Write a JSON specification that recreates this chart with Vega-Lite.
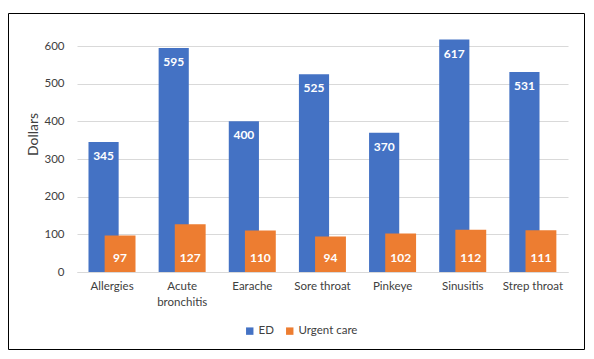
{
  "$schema": "https://vega.github.io/schema/vega-lite/v6.json",
  "width": 576,
  "height": 336,
  "autosize": {"type": "none"},
  "padding": {"left": 8, "top": 13, "right": 10, "bottom": 10},
  "background": "white",
  "config": {
    "view": {"stroke": "#000000", "strokeWidth": 1},
    "font": "Lato",
    "axis": {"labelFont": "Lato", "titleFont": "Lato"}
  },
  "data": {
    "values": [
      {"condition": "Allergies", "series": "ED", "value": 345},
      {"condition": "Acute bronchitis", "series": "ED", "value": 595},
      {"condition": "Earache", "series": "ED", "value": 400},
      {"condition": "Sore throat", "series": "ED", "value": 525},
      {"condition": "Pinkeye", "series": "ED", "value": 370},
      {"condition": "Sinusitis", "series": "ED", "value": 617},
      {"condition": "Strep throat", "series": "ED", "value": 531},
      {"condition": "Allergies", "series": "Urgent care", "value": 97},
      {"condition": "Acute bronchitis", "series": "Urgent care", "value": 127},
      {"condition": "Earache", "series": "Urgent care", "value": 110},
      {"condition": "Sore throat", "series": "Urgent care", "value": 94},
      {"condition": "Pinkeye", "series": "Urgent care", "value": 102},
      {"condition": "Sinusitis", "series": "Urgent care", "value": 112},
      {"condition": "Strep throat", "series": "Urgent care", "value": 111}
    ]
  },
  "encoding": {
    "x": {
      "field": "condition",
      "type": "nominal",
      "sort": null,
      "scale": {"range": [69, 560], "paddingInner": 0, "paddingOuter": 0},
      "axis": {
        "title": null,
        "labelAngle": 0,
        "offset": -77,
        "domain": true,
        "domainColor": "#D9D9D9",
        "ticks": false,
        "labelPadding": 8,
        "labelFontSize": 11.5,
        "labelColor": "#404040",
        "labelLineHeight": 16,
        "labelExpr": "datum.label == 'Acute bronchitis' ? ['Acute', 'bronchitis'] : datum.label"
      }
    },
    "y": {
      "field": "value",
      "type": "quantitative",
      "scale": {"domain": [0, 600], "range": [259, 33], "nice": false, "zero": true},
      "axis": {
        "title": "Dollars",
        "titleFontSize": 14,
        "titleFontWeight": "normal",
        "titleColor": "#404040",
        "titlePadding": 3,
        "titleY": 121,
        "values": [0, 100, 200, 300, 400, 500, 600],
        "offset": -60,
        "domain": false,
        "ticks": false,
        "labelPadding": 4,
        "labelFontSize": 11.5,
        "labelColor": "#404040",
        "gridColor": "#D9D9D9",
        "grid": true
      }
    },
    "color": {
      "field": "series",
      "type": "nominal",
      "scale": {"domain": ["ED", "Urgent care"], "range": ["#4472C4", "#ED7D31"]},
      "legend": {
        "title": null,
        "orient": "none",
        "direction": "horizontal",
        "legendX": 236,
        "legendY": 312,
        "symbolType": "square",
        "symbolSize": 55,
        "symbolStrokeWidth": 0,
        "labelFontSize": 11.5,
        "labelColor": "#404040",
        "columnPadding": 10,
        "labelOffset": 3
      }
    }
  },
  "layer": [
    {
      "transform": [{"filter": "datum.series == 'ED'"}],
      "mark": {"type": "bar", "width": {"band": 0.43}, "xOffset": -8.5},
      "encoding": {}
    },
    {
      "transform": [{"filter": "datum.series == 'ED'"}],
      "mark": {"type": "text", "xOffset": -8.5, "dy": 14, "color": "white", "fontWeight": "bold", "fontSize": 12, "baseline": "middle"},
      "encoding": {"text": {"field": "value", "type": "quantitative"}, "color": {"value": "white"}}
    },
    {
      "transform": [{"filter": "datum.series == 'Urgent care'"}],
      "mark": {"type": "bar", "width": {"band": 0.44}, "xOffset": 8},
      "encoding": {}
    },
    {
      "transform": [{"filter": "datum.series == 'Urgent care'"}],
      "mark": {"type": "text", "xOffset": 8, "dy": -14, "color": "white", "fontWeight": "bold", "fontSize": 12, "baseline": "middle"},
      "encoding": {"text": {"field": "value", "type": "quantitative"}, "y": {"datum": 0}, "color": {"value": "white"}}
    }
  ]
}
